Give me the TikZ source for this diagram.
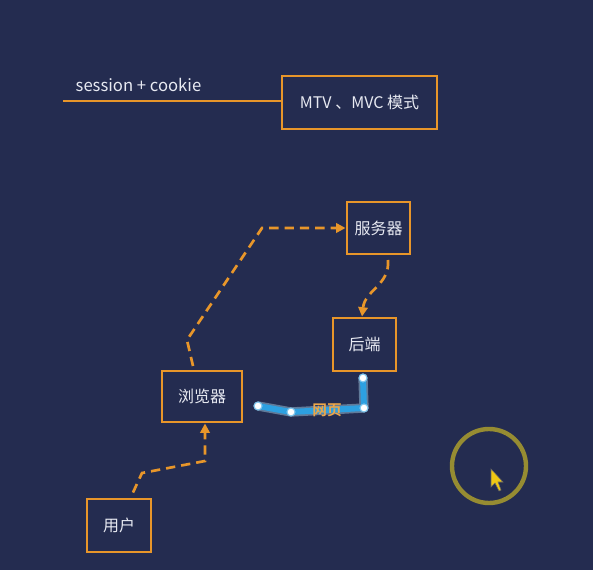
\documentclass[tikz,border=0pt]{standalone}
\usepackage{fontspec}
\setmainfont{Noto Sans CJK SC}[BoldFont={Noto Sans CJK SC Bold}]
\usetikzlibrary{arrows.meta}
\definecolor{bg}{RGB}{36,44,80}
\definecolor{org}{RGB}{232,150,42}
\definecolor{txt}{RGB}{232,234,242}
\definecolor{blu}{RGB}{45,160,225}
\definecolor{ring}{RGB}{150,140,50}
\definecolor{cur}{RGB}{240,200,20}
\tikzset{
  box/.style={draw=org, line width=2.2pt, minimum width=#1, inner sep=0pt, text=txt, font=\fontsize{12pt}{14pt}\selectfont},
  dsh/.style={draw=org, line width=2pt, dash pattern=on 7pt off 4.5pt, -{Triangle[length=7pt,width=7pt]}},
  dot/.style={circle, fill=white, draw=blu!60, line width=0.8pt, inner sep=0pt, minimum size=6pt}
}
\begin{document}
\begin{tikzpicture}[x=0.75pt,y=-0.75pt]
\fill[bg] (0,0) rectangle (593,570);
\useasboundingbox (0,0) rectangle (593,570);
% top
\node[box=155*0.75pt, minimum height=53*0.75pt] (mtv) at (359.5,102.5) {MTV 、MVC 模式};
\coordinate (lstart) at (63,101);
\draw[org, line width=1.8pt] (lstart) -- (mtv.west |- lstart);
\node[text=txt, font=\fontsize{12.5pt}{14pt}\selectfont, anchor=west] (sc) at (71,85) {session + cookie};
% boxes
\node[box=63*0.75pt, minimum height=52*0.75pt] (srv) at (378.5,228) {服务器};
\node[box=63*0.75pt, minimum height=53*0.75pt] (be) at (364.5,344.5) {后端};
\node[box=80*0.75pt, minimum height=51*0.75pt] (br) at (202,396.5) {浏览器};
\node[box=64*0.75pt, minimum height=53*0.75pt] (usr) at (119,525.5) {用户};
% dashed arrows
\draw[dsh] (usr.north -| 133,0) ++(0,-5) -- (142,473) -- (205,461) -- (br.south -| 205,0);
\draw[dsh] (193,366) -- (187,340) -- (262,228) -- (srv.west);
\draw[dsh] (388,260) .. controls (390,285) and (365,290) .. (be.north -| 362,0);
% blue web page path
\coordinate (p1) at (363,378);
\coordinate (p2) at (364,408);
\coordinate (p3) at (291,412);
\coordinate (p4) at (258,406);
\draw[blu!40, line width=7pt, opacity=0.45, line join=round, line cap=round] (p1) -- (p2) -- (p3) -- (p4);
\draw[blu, line width=4.5pt, line join=round, line cap=round] (p1) -- (p2) -- (p3) -- (p4);
\foreach \p in {p1,p2,p3,p4} \node[dot] at (\p) {};
\node[text=org!85!white, font=\bfseries\fontsize{11pt}{12pt}\selectfont] (wy) at (327,410) {网页};
% cursor highlight
\node[draw=ring, line width=3.3pt, circle, minimum size=74*0.75pt, inner sep=0pt] (rg) at (489,466) {};
\fill[cur, draw=black!60, line width=0.4pt] (491,469) -- (491,487) -- (495,483) -- (499,491) -- (501,490) -- (498,482) -- (503,482) -- cycle;
\end{tikzpicture}
\end{document}
